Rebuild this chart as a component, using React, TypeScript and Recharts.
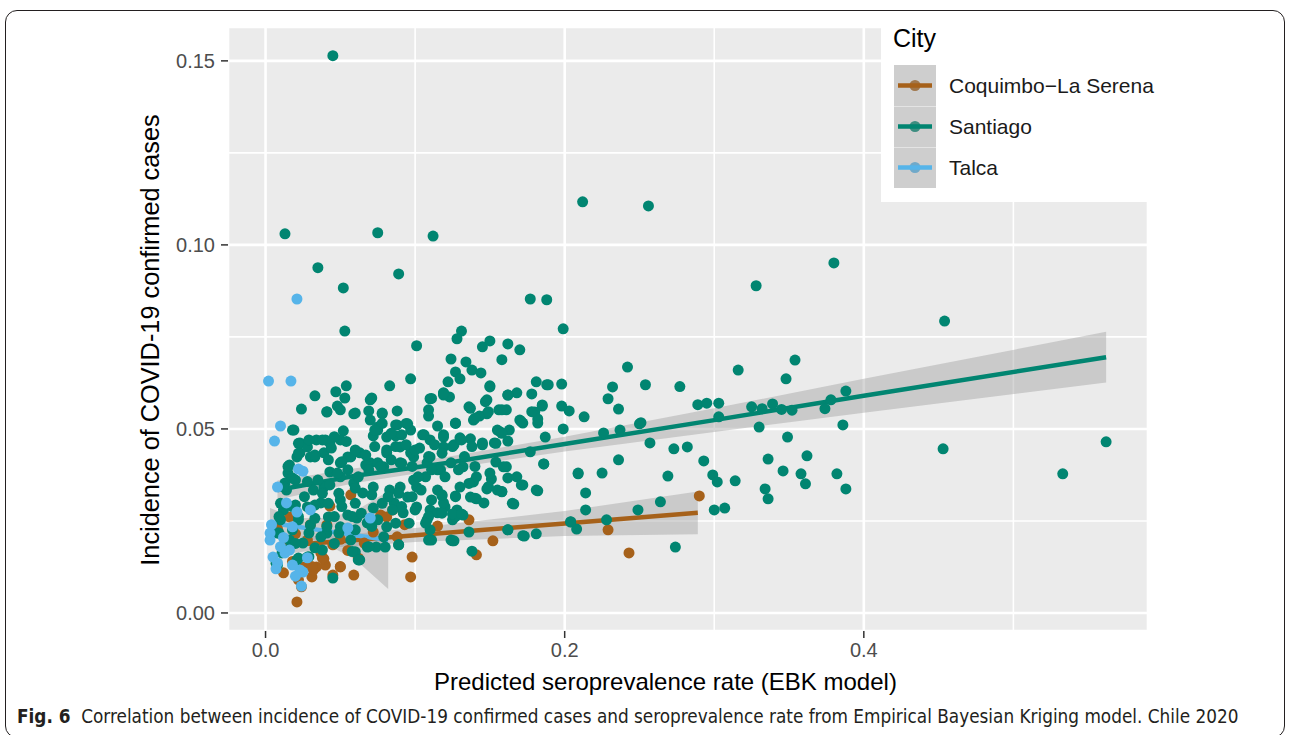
import React from 'react';
import { ComposedChart, Scatter, Line, Area, XAxis, YAxis, CartesianGrid } from 'recharts';

// points: [seroprevalence, incidence]
const santiago: Array<[number, number]> = [
  [0.045, 0.1514], [0.013, 0.103], [0.075, 0.1033], [0.112, 0.1024], [0.035, 0.0938], [0.089, 0.0921], [0.052, 0.0883],
  [0.212, 0.1117], [0.256, 0.1106], [0.38, 0.0951], [0.328, 0.0889], [0.177, 0.0853], [0.188, 0.0851], [0.454, 0.0793],
  [0.053, 0.0766], [0.131, 0.0766], [0.199, 0.0772], [0.562, 0.0465], [0.533, 0.0378], [0.453, 0.0446],
  [0.316, 0.066], [0.354, 0.0687], [0.348, 0.0636], [0.254, 0.062], [0.277, 0.0615], [0.289, 0.0566], [0.295, 0.057],
  [0.303, 0.057], [0.303, 0.0533], [0.325, 0.056], [0.332, 0.0555], [0.339, 0.0568], [0.345, 0.0553], [0.352, 0.0551],
  [0.374, 0.0555], [0.378, 0.0579], [0.388, 0.0603], [0.251, 0.0517], [0.257, 0.0462], [0.386, 0.0511], [0.33, 0.0505],
  [0.349, 0.0478], [0.273, 0.0446], [0.282, 0.0451], [0.293, 0.0413], [0.269, 0.0372], [0.299, 0.0375], [0.302, 0.0356],
  [0.314, 0.0359], [0.336, 0.0418], [0.362, 0.0427], [0.346, 0.0386], [0.358, 0.0378], [0.361, 0.0351], [0.382, 0.0378],
  [0.388, 0.0337], [0.334, 0.0337], [0.336, 0.031], [0.3, 0.028], [0.307, 0.0285], [0.264, 0.0302], [0.274, 0.0179],
  [0.199, 0.05], [0.187, 0.0478], [0.172, 0.0516], [0.182, 0.0516], [0.226, 0.0489], [0.237, 0.0497], [0.25, 0.0514],
  [0.236, 0.0416], [0.209, 0.0378], [0.225, 0.038], [0.214, 0.0326], [0.214, 0.028], [0.249, 0.028], [0.204, 0.0247],
  [0.208, 0.0228], [0.228, 0.0253], [0.186, 0.0405], [0.177, 0.0438], [0.172, 0.0348], [0.182, 0.0332], [0.166, 0.0296],
  [0.158, 0.0329], [0.162, 0.0367], [0.161, 0.0397], [0.163, 0.0497], [0.157, 0.0492], [0.162, 0.0467], [0.154, 0.041],
  [0.151, 0.0364], [0.148, 0.0337], [0.141, 0.031], [0.139, 0.0356], [0.132, 0.0266], [0.125, 0.0253], [0.12, 0.0288],
  [0.127, 0.0318], [0.118, 0.0318], [0.125, 0.0196], [0.136, 0.022], [0.138, 0.0168], [0.162, 0.0226], [0.173, 0.0209],
  [0.181, 0.0215], [0.111, 0.0198],
  [0.242, 0.0668], [0.128, 0.0745], [0.145, 0.0723], [0.15, 0.0739], [0.162, 0.0731], [0.17, 0.0715], [0.158, 0.0688],
  [0.124, 0.069], [0.134, 0.0682], [0.127, 0.0655], [0.138, 0.066], [0.144, 0.0652], [0.13, 0.0636], [0.122, 0.0628],
  [0.119, 0.0598], [0.123, 0.0587], [0.15, 0.0614], [0.181, 0.0628], [0.188, 0.062], [0.198, 0.0622], [0.178, 0.0595],
  [0.168, 0.0598], [0.162, 0.0592], [0.148, 0.0579], [0.136, 0.056], [0.156, 0.0552], [0.161, 0.0552], [0.185, 0.0562],
  [0.198, 0.0562], [0.203, 0.0549], [0.213, 0.0533], [0.232, 0.0614], [0.229, 0.0582], [0.236, 0.0554], [0.18, 0.0546],
  [0.182, 0.0527], [0.148, 0.0541], [0.139, 0.0524], [0.143, 0.0535], [0.127, 0.0516], [0.119, 0.0484], [0.13, 0.0476],
  [0.137, 0.0473], [0.153, 0.0462], [0.145, 0.0462], [0.126, 0.0457],
  [0.101, 0.0726], [0.097, 0.0636], [0.054, 0.0617], [0.083, 0.0617], [0.047, 0.0601], [0.033, 0.059], [0.053, 0.0584],
  [0.071, 0.0584], [0.024, 0.0554], [0.041, 0.0546], [0.048, 0.0562], [0.059, 0.0541], [0.069, 0.0549], [0.078, 0.0541],
  [0.088, 0.0549], [0.11, 0.0582], [0.119, 0.0592], [0.109, 0.0535], [0.018, 0.0497], [0.052, 0.0495], [0.075, 0.0505],
  [0.088, 0.0511], [0.095, 0.0514], [0.115, 0.0508], [0.105, 0.0484], [0.087, 0.0481], [0.072, 0.0481], [0.023, 0.0462],
  [0.04, 0.047], [0.05, 0.047], [0.119, 0.0478],
  [0.05, 0.0552], [0.07, 0.0579], [0.075, 0.0497], [0.081, 0.0478], [0.097, 0.0497], [0.11, 0.047], [0.119, 0.0451],
  [0.155, 0.0497], [0.17, 0.0524], [0.043, 0.0462], [0.034, 0.047], [0.021, 0.0424], [0.03, 0.0424], [0.039, 0.0435],
  [0.055, 0.0424], [0.07, 0.0408], [0.079, 0.0397], [0.09, 0.0408], [0.099, 0.0424], [0.108, 0.0408], [0.117, 0.0389],
  [0.124, 0.0408], [0.132, 0.0397], [0.141, 0.037], [0.15, 0.038], [0.159, 0.0397], [0.168, 0.037], [0.13, 0.0342],
  [0.115, 0.0334], [0.101, 0.0342], [0.128, 0.028], [0.119, 0.0299], [0.11, 0.028], [0.137, 0.0315], [0.146, 0.0299],
  [0.155, 0.0334], [0.11, 0.0226], [0.124, 0.0198],
  [0.023, 0.0435], [0.016, 0.0402], [0.015, 0.038], [0.013, 0.0353], [0.018, 0.0367], [0.028, 0.0451], [0.033, 0.0424],
  [0.042, 0.0416], [0.05, 0.0408], [0.057, 0.0424], [0.063, 0.0435], [0.067, 0.0402], [0.075, 0.0408], [0.081, 0.0435],
  [0.09, 0.0451], [0.097, 0.0435], [0.103, 0.0448], [0.11, 0.0424], [0.115, 0.0389], [0.107, 0.037], [0.099, 0.0361],
  [0.09, 0.0342], [0.083, 0.0334], [0.072, 0.0342], [0.065, 0.0326], [0.059, 0.0353], [0.05, 0.037], [0.043, 0.0383],
  [0.039, 0.0342], [0.032, 0.0334], [0.05, 0.0307], [0.037, 0.0299], [0.028, 0.0288], [0.02, 0.0293], [0.012, 0.028],
  [0.022, 0.0253], [0.01, 0.0253], [0.042, 0.0261], [0.055, 0.0266], [0.061, 0.0258], [0.068, 0.0245], [0.072, 0.0285],
  [0.081, 0.0234], [0.086, 0.0299], [0.092, 0.0272], [0.101, 0.0288], [0.108, 0.0253], [0.115, 0.0272], [0.111, 0.0307],
  [0.095, 0.0315], [0.03, 0.0239], [0.041, 0.0217], [0.05, 0.0234], [0.037, 0.0207], [0.025, 0.019], [0.016, 0.0198],
  [0.008, 0.0217], [0.011, 0.0163], [0.008, 0.013], [0.021, 0.0144], [0.028, 0.0152], [0.045, 0.0095], [0.06, 0.0166],
  [0.063, 0.0144], [0.068, 0.0179], [0.074, 0.0179], [0.08, 0.0179], [0.089, 0.0185], [0.057, 0.0198], [0.033, 0.0177],
  // dense core
  [0.041, 0.0547], [0.06, 0.0543], [0.078, 0.0543], [0.07, 0.0524], [0.078, 0.0515], [0.087, 0.0511], [0.094, 0.0515],
  [0.073, 0.0497], [0.084, 0.0488], [0.091, 0.0484], [0.019, 0.0497], [0.022, 0.0461], [0.029, 0.047], [0.038, 0.047],
  [0.046, 0.0479], [0.054, 0.0466], [0.044, 0.0448], [0.033, 0.0429], [0.022, 0.0434], [0.051, 0.0411], [0.06, 0.0443],
  [0.067, 0.0429], [0.073, 0.0452], [0.081, 0.0443], [0.087, 0.0452], [0.094, 0.0457], [0.1, 0.0443], [0.106, 0.0484],
  [0.113, 0.0457], [0.109, 0.0425], [0.118, 0.0434], [0.125, 0.0452], [0.131, 0.047], [0.138, 0.0452], [0.145, 0.0457],
  [0.154, 0.0461], [0.158, 0.0488], [0.133, 0.0425], [0.14, 0.0398], [0.129, 0.0389], [0.12, 0.037], [0.111, 0.0389],
  [0.102, 0.037], [0.098, 0.0398], [0.091, 0.0407], [0.084, 0.0416], [0.077, 0.0398], [0.069, 0.0389], [0.062, 0.037],
  [0.055, 0.0389], [0.048, 0.038], [0.043, 0.0348], [0.035, 0.0361], [0.028, 0.0357], [0.02, 0.0361], [0.015, 0.0398],
  [0.014, 0.0334], [0.026, 0.0316], [0.038, 0.0325], [0.049, 0.0325], [0.06, 0.0339], [0.071, 0.0321], [0.082, 0.0316],
  [0.089, 0.0325], [0.098, 0.0316], [0.104, 0.0334], [0.118, 0.0321], [0.127, 0.0316], [0.136, 0.0352], [0.149, 0.0343],
  [0.158, 0.033], [0.165, 0.0298], [0.171, 0.0348], [0.181, 0.0334], [0.186, 0.0405], [0.209, 0.038], [0.091, 0.0289],
  [0.1, 0.028], [0.109, 0.0262], [0.118, 0.0271], [0.127, 0.0262], [0.096, 0.0244], [0.107, 0.0244], [0.087, 0.0244],
  [0.085, 0.028], [0.078, 0.0298], [0.06, 0.0298], [0.051, 0.0289], [0.042, 0.0298], [0.033, 0.0293], [0.018, 0.0289],
  [0.01, 0.0298], [0.012, 0.0343], [0.022, 0.0262], [0.033, 0.0257], [0.046, 0.0262], [0.058, 0.0262], [0.064, 0.0271],
  [0.075, 0.0253], [0.009, 0.0262], [0.009, 0.0217], [0.018, 0.0226], [0.029, 0.0217], [0.041, 0.0235], [0.049, 0.0217],
  [0.06, 0.0226], [0.071, 0.0235], [0.079, 0.0207], [0.013, 0.0171], [0.02, 0.0189], [0.038, 0.0171], [0.046, 0.0189],
  [0.058, 0.0167], [0.069, 0.018], [0.089, 0.0185], [0.109, 0.0198], [0.126, 0.0196], [0.162, 0.0226], [0.172, 0.021],
  [0.204, 0.0248], [0.125, 0.0269], [0.131, 0.0269], [0.14, 0.0312], [0.022, 0.0149], [0.029, 0.0153], [0.007, 0.0135],
  [0.062, 0.0144], [0.111, 0.0583], [0.119, 0.0597], [0.109, 0.0552], [0.127, 0.0515], [0.137, 0.0556], [0.147, 0.0574],
  [0.149, 0.0547], [0.14, 0.0529], [0.158, 0.0552], [0.162, 0.0592], [0.171, 0.052], [0.178, 0.0547], [0.189, 0.062],
  [0.185, 0.0565], [0.15, 0.0617],
];

const coquimbo: Array<[number, number]> = [
  [0.057, 0.0321], [0.043, 0.029], [0.077, 0.0266], [0.085, 0.028], [0.098, 0.0152], [0.097, 0.0098], [0.059, 0.0103],
  [0.05, 0.0125], [0.04, 0.013], [0.034, 0.0125], [0.031, 0.0098], [0.012, 0.0109], [0.022, 0.009], [0.024, 0.0071],
  [0.021, 0.003], [0.037, 0.0163], [0.045, 0.0103], [0.062, 0.0149], [0.028, 0.0198], [0.088, 0.0207], [0.081, 0.0261],
  [0.041, 0.0239], [0.016, 0.0261], [0.136, 0.0253], [0.115, 0.0236], [0.152, 0.0196], [0.141, 0.0158], [0.229, 0.0226],
  [0.243, 0.0163], [0.29, 0.0318], [0.039, 0.0147], [0.032, 0.0117], [0.012, 0.018], [0.02, 0.0215], [0.066, 0.019],
  [0.072, 0.022], [0.05, 0.02], [0.03, 0.024], [0.008, 0.0228], [0.018, 0.014], [0.026, 0.0125], [0.055, 0.017],
  [0.045, 0.0185], [0.093, 0.024], [0.038, 0.0149], [0.05, 0.0126], [0.031, 0.0126],
];

const talca: Array<[number, number]> = [
  [0.002, 0.063], [0.017, 0.063], [0.021, 0.0853], [0.01, 0.0508], [0.006, 0.0467], [0.008, 0.0342], [0.022, 0.0391],
  [0.025, 0.0385], [0.014, 0.0299], [0.021, 0.0274], [0.003, 0.0217], [0.003, 0.0198], [0.005, 0.0152], [0.008, 0.0136],
  [0.023, 0.0117], [0.024, 0.0073], [0.016, 0.0171], [0.018, 0.0234], [0.013, 0.0163], [0.018, 0.013], [0.025, 0.0111],
  [0.07, 0.0258], [0.055, 0.0231], [0.004, 0.024], [0.01, 0.018], [0.028, 0.015], [0.012, 0.0205], [0.02, 0.01],
  [0.03, 0.028], [0.007, 0.012],
];

// linear fits with 95% bands: [x, fit, lower, upper]
const coquimboFit: Array<[number, number, number, number]> = [
  [0.009, 0.0182, 0.0158, 0.0206], [0.05, 0.0195, 0.0179, 0.0211], [0.1, 0.0211, 0.0193, 0.0231],
  [0.2, 0.0243, 0.0209, 0.0277], [0.289, 0.0272, 0.0214, 0.033],
];
const santiagoFit: Array<[number, number, number, number]> = [
  [0.008, 0.0334, 0.0308, 0.036], [0.06, 0.0373, 0.0353, 0.0393], [0.12, 0.0407, 0.0391, 0.0423],
  [0.2, 0.0459, 0.0439, 0.0479], [0.3, 0.0524, 0.0492, 0.0556], [0.4, 0.059, 0.0544, 0.0636],
  [0.562, 0.0695, 0.0626, 0.0764],
];
const talcaFit: Array<[number, number, number, number]> = [
  [0.003, 0.0245, 0.0205, 0.0285], [0.02, 0.0235, 0.0212, 0.0258], [0.04, 0.0223, 0.0188, 0.0258],
  [0.06, 0.0211, 0.0145, 0.0277], [0.082, 0.0198, 0.0065, 0.0331],
];

const cities = ['Coquimbo\u2212La Serena', 'Santiago', 'Talca'];
const colors = ['#A6611A', '#018571', '#56B4E9'];
const xTicks = [0, 0.2, 0.4];
const yTicks = [0, 0.05, 0.1, 0.15];
const xMinor = [0.1, 0.3, 0.5];
const yMinor = [0.025, 0.075, 0.125];

const FONT = '"Liberation Sans", Arial, sans-serif';

const toPoints = (arr: Array<[number, number]>) => arr.map(([x, y]) => ({ x, y }));
const toFit = (arr: Array<[number, number, number, number]>) =>
  arr.map(([x, fit, lo, hi]) => ({ x, fit, band: [lo, hi] }));

const dot = (color: string) => (props: any) => <circle cx={props.cx} cy={props.cy} r={5.5} fill={color} />;

function CityLegend() {
  return (
    <div style={{ position: 'absolute', left: 881, top: 20, width: 267, height: 182, background: '#fff', fontFamily: FONT }}>
      <div style={{ position: 'absolute', left: 12, top: 4, fontSize: 25, color: '#000' }}>City</div>
      {cities.map((c, i) => (
        <div key={c} style={{ position: 'absolute', left: 13, top: 45 + i * 41, height: 41, display: 'flex', alignItems: 'center', whiteSpace: 'nowrap' }}>
          <svg width={42} height={41} style={{ display: 'block' }}>
            <rect x={0} y={0} width={42} height={41} fill="#F2F2F2" />
            <circle cx={21} cy={20.5} r={5.5} fill={colors[i]} />
            <rect x={0} y={0} width={42} height={41} fill="#999999" fillOpacity={0.4} />
            <line x1={4} x2={38} y1={20.5} y2={20.5} stroke={colors[i]} strokeWidth={4.5} />
            {i > 0 && <line x1={0} x2={42} y1={0.5} y2={0.5} stroke="#E4E4E4" strokeWidth={1} />}
          </svg>
          <span style={{ marginLeft: 13, fontSize: 21, color: '#1A1A1A' }}>{c}</span>
        </div>
      ))}
    </div>
  );
}

export default function App() {
  return (
    <div style={{ position: 'absolute', left: 0, top: 0, width: 1290, height: 735, overflow: 'hidden', background: '#fff' }}>
      <div style={{ position: 'absolute', left: 5, top: 10, width: 1278, height: 726, border: '1.5px solid #231F20', borderRadius: 12 }} />
      <div style={{ position: 'absolute', left: 0, top: 0 }}>
        <ComposedChart width={1290} height={735} margin={{ top: 27, right: 142, left: 0, bottom: 74 }}>
          <CartesianGrid fill="#EBEBEB" stroke="#FFFFFF" strokeWidth={1.6} horizontalValues={yMinor} verticalValues={xMinor} />
          <CartesianGrid stroke="#FFFFFF" strokeWidth={2.6} />
          <XAxis
            type="number"
            dataKey="x"
            domain={[-0.0251, 0.59]}
            allowDataOverflow
            ticks={xTicks}
            tickFormatter={(v: number) => v.toFixed(1)}
            axisLine={false}
            tickLine={{ stroke: '#333333', strokeWidth: 1.5 }}
            tickSize={7}
            tickMargin={5}
            height={30}
            tick={{ fill: '#4D4D4D', fontSize: 20, fontFamily: FONT }}
          />
          <YAxis
            type="number"
            dataKey="y"
            domain={[-0.0049, 0.1592]}
            allowDataOverflow
            ticks={yTicks}
            tickFormatter={(v: number) => v.toFixed(2)}
            axisLine={false}
            tickLine={{ stroke: '#333333', strokeWidth: 1.5 }}
            tickSize={7}
            tickMargin={6}
            width={228}
            tick={{ fill: '#4D4D4D', fontSize: 20, fontFamily: FONT }}
          />
          <Scatter name={cities[0]} data={toPoints(coquimbo)} shape={dot(colors[0])} isAnimationActive={false} />
          <Scatter name={cities[1]} data={toPoints(santiago)} shape={dot(colors[1])} isAnimationActive={false} />
          <Scatter name={cities[2]} data={toPoints(talca)} shape={dot(colors[2])} isAnimationActive={false} />
          {[coquimboFit, santiagoFit, talcaFit].map((f, i) => [
            <Area key={`a${i}`} data={toFit(f)} dataKey="band" type="linear" stroke="none" fill="#999999" fillOpacity={0.4} isAnimationActive={false} />,
            <Line key={`l${i}`} data={toFit(f)} dataKey="fit" type="linear" stroke={colors[i]} strokeWidth={4.5} dot={false} activeDot={false} isAnimationActive={false} />,
          ])}
        </ComposedChart>
      </div>
      <div style={{ position: 'absolute', left: 434, top: 668, width: 460, textAlign: 'center', fontFamily: FONT, fontSize: 24, color: '#000', whiteSpace: 'nowrap' }}>
        Predicted seroprevalence rate (EBK model)
      </div>
      <div style={{ position: 'absolute', left: 150, top: 340, width: 0, height: 0 }}>
        <div style={{ position: 'absolute', transform: 'translate(-50%, -50%) rotate(-90deg)', fontFamily: FONT, fontSize: 25.3, color: '#000', whiteSpace: 'nowrap' }}>
          Incidence of COVID-19 confirmed cases
        </div>
      </div>
      <CityLegend />
      <div style={{ position: 'absolute', left: 17, top: 706, fontFamily: '"Liberation Sans Narrow", "DejaVu Sans Condensed", sans-serif', fontSize: 18.8, color: '#231F20', whiteSpace: 'nowrap' }}>
        <b>Fig. 6</b>&nbsp;&nbsp;Correlation between incidence of COVID-19 confirmed cases and seroprevalence rate from Empirical Bayesian Kriging model. Chile 2020
      </div>
    </div>
  );
}
